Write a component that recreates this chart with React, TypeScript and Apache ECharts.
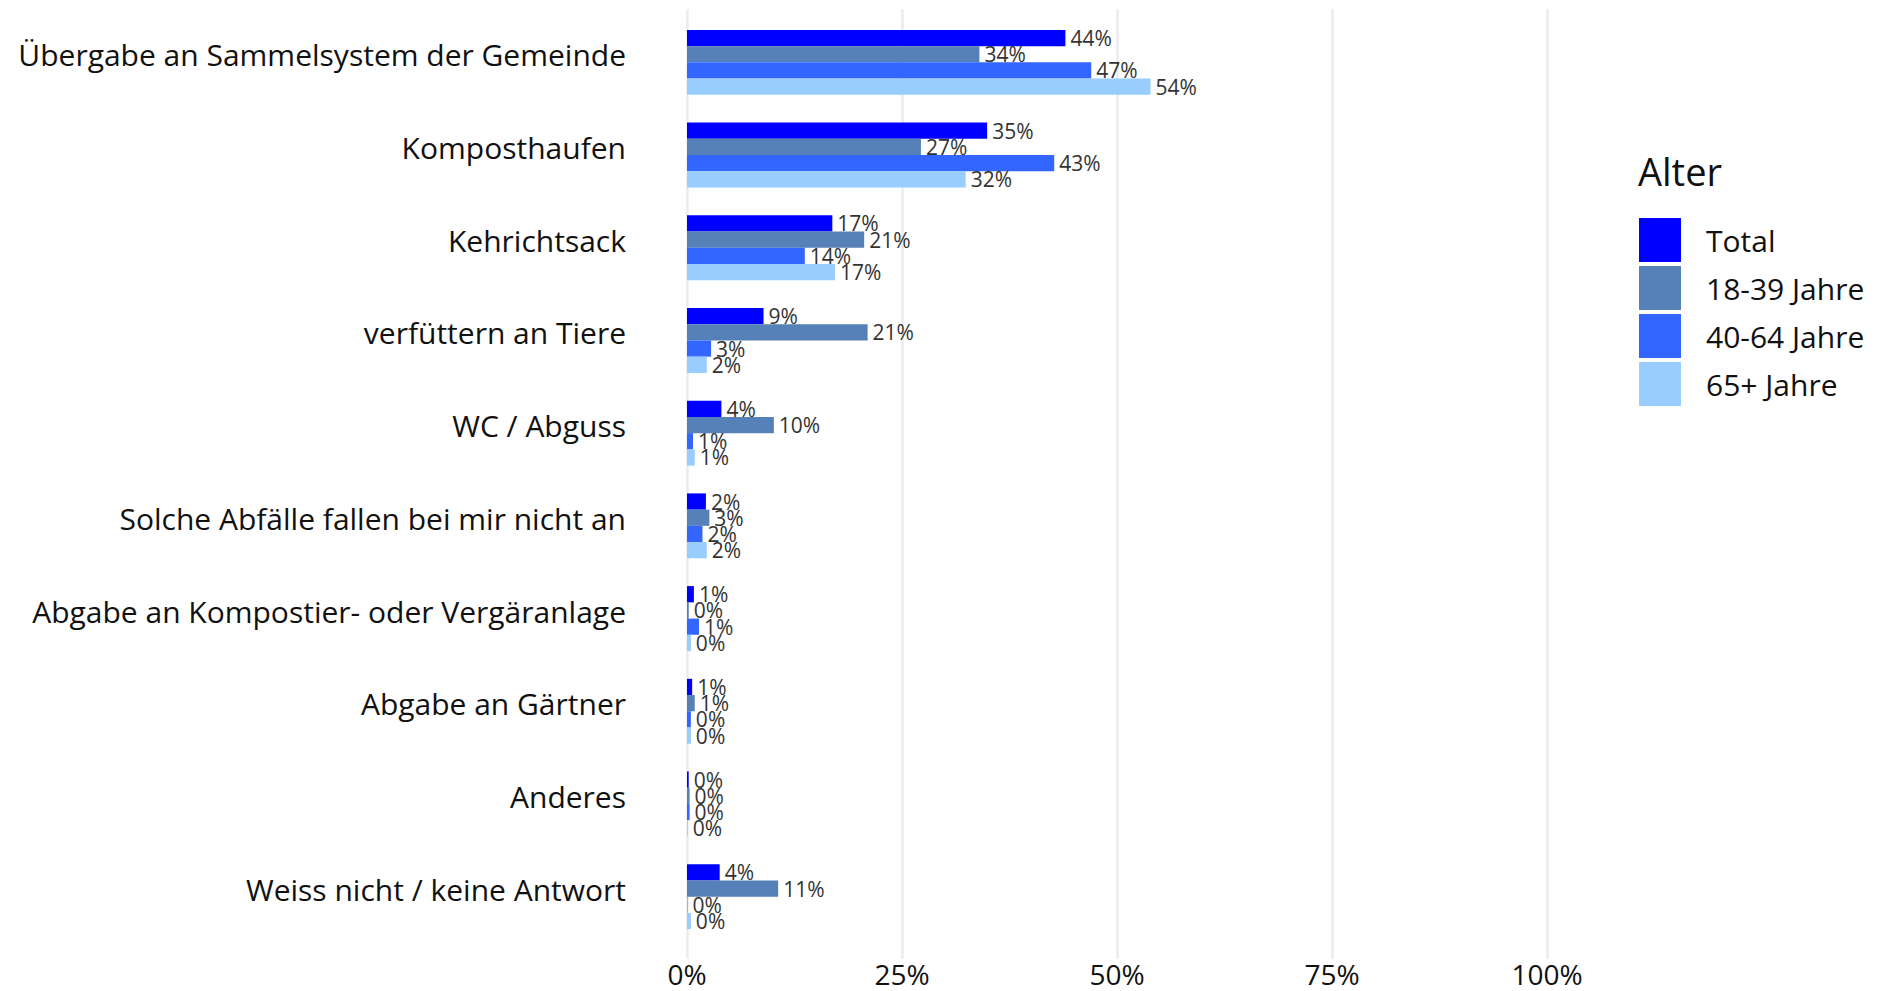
import React, { useEffect, useRef } from 'react';
import * as echarts from 'echarts';

const categories = [
  'Übergabe an Sammelsystem der Gemeinde',
  'Komposthaufen',
  'Kehrichtsack',
  'verfüttern an Tiere',
  'WC / Abguss',
  'Solche Abfälle fallen bei mir nicht an',
  'Abgabe an Kompostier- oder Vergäranlage',
  'Abgabe an Gärtner',
  'Anderes',
  'Weiss nicht / keine Antwort',
];

const seriesNames = ['Total', '18-39 Jahre', '40-64 Jahre', '65+ Jahre'];
const totalValues = [44.0, 34.9, 16.9, 8.9, 4.0, 2.2, 0.8, 0.6, 0.2, 3.8];
const age1839Values = [34.0, 27.2, 20.6, 21.0, 10.1, 2.6, 0.2, 0.9, 0.3, 10.6];
const age4064Values = [47.0, 42.7, 13.7, 2.8, 0.7, 1.8, 1.4, 0.45, 0.3, 0.05];
const age65Values = [53.9, 32.4, 17.2, 2.3, 0.9, 2.3, 0.45, 0.45, 0.1, 0.45];
const colors = ['#0000FF', '#5580B8', '#3366FF', '#99CCFF'];
const xTickInterval = 25;
const xMax = 100;
const legendTitle = 'Alter';

export default function App() {
  const ref = useRef<HTMLDivElement>(null);
  useEffect(() => {
    const chart = echarts.init(ref.current!, null, { renderer: 'svg' });
    const font = 'Open Sans';
    const valueSets = [totalValues, age1839Values, age4064Values, age65Values];
    chart.setOption({
      animation: false,
      title: {
        text: legendTitle,
        left: 1633,
        top: 147,
        textStyle: { fontFamily: font, fontSize: 38, fontWeight: 'normal', color: '#111' },
      },
      legend: {
        orient: 'vertical',
        left: 1634,
        top: 213,
        itemWidth: 42,
        itemHeight: 44,
        itemGap: 4,
        icon: 'rect',
        data: seriesNames,
        textStyle: { fontFamily: font, fontSize: 30, color: '#111', padding: [0, 0, 0, 20] },
      },
      grid: [
        { left: 687, top: 16, width: 860, height: 927 },
        { left: 687, top: 9, width: 860, height: 950 },
      ],
      xAxis: [
        { gridIndex: 0, type: 'value', min: 0, max: xMax, show: false },
        {
          gridIndex: 1,
          type: 'value',
          min: 0,
          max: xMax,
          interval: xTickInterval,
          axisLine: { show: false },
          axisTick: { show: false },
          splitLine: { show: true, lineStyle: { color: '#EBEBEB', width: 2.5 } },
          axisLabel: {
            formatter: '{value}%',
            fontFamily: font,
            fontSize: 28,
            lineHeight: 28,
            color: '#111',
            margin: 1,
          },
        },
      ],
      yAxis: [
        {
          gridIndex: 0,
          type: 'category',
          data: categories,
          inverse: true,
          axisLine: { show: false },
          axisTick: { show: false },
          splitLine: { show: false },
          axisLabel: {
            fontFamily: font,
            fontSize: 30,
            color: '#111',
            margin: 61,
            verticalAlign: 'bottom',
            lineHeight: 15,
          },
        },
        { gridIndex: 1, type: 'category', data: categories, show: false },
      ],
      series: seriesNames.map((name, i) => ({
        name,
        type: 'bar',
        xAxisIndex: 0,
        yAxisIndex: 0,
        data: valueSets[i],
        barGap: '0%',
        barCategoryGap: '30%',
        itemStyle: { color: colors[i] },
        label: {
          show: true,
          position: 'right',
          distance: 5,
          formatter: (p: any) => Math.round(p.value) + '%',
          fontFamily: font,
          fontSize: 21,
          color: '#333',
        },
      })),
    });
    return () => chart.dispose();
  }, []);
  return (
    <div
      ref={ref}
      style={{ position: 'fixed', left: 0, top: 0, width: 1892, height: 991, background: '#fff' }}
    />
  );
}
